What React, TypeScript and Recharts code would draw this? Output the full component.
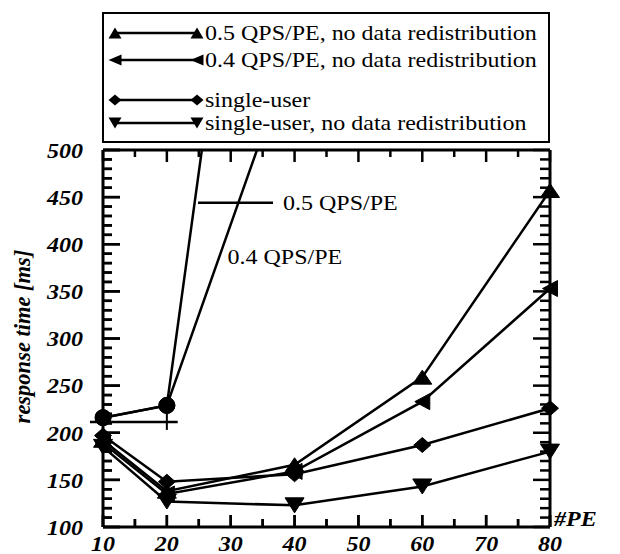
import React from 'react';
import { LineChart, Line, XAxis, YAxis, Legend, ReferenceLine, ReferenceDot, Label } from 'recharts';

const peCounts = [10, 20, 40, 60, 80];
const qps05NoRedist = [192, 138, 166, 259, 457];
const qps04NoRedist = [189, 135, 159, 233, 353];
const singleUser = [197, 148, 156, 187, 226];
const singleUserNoRedist = [185, 127, 123, 143, 180];
const qps05 = [216, 229, 1218, null, null];
const qps04 = [216, 229, 613, null, null];

const legendNames = [
  '0.5 QPS/PE, no data redistribution',
  '0.4 QPS/PE, no data redistribution',
  'single-user',
  'single-user, no data redistribution',
];
const legendShapes = ['up', 'left', 'diamond', 'down'];

const xTicks = [10, 15, 20, 25, 30, 35, 40, 45, 50, 55, 60, 65, 70, 75, 80];
const yTicks = [100, 110, 120, 130, 140, 150, 160, 170, 180, 190, 200, 210, 220, 230, 240, 250, 260, 270, 280, 290, 300, 310, 320, 330, 340, 350, 360, 370, 380, 390, 400, 410, 420, 430, 440, 450, 460, 470, 480, 490, 500];

const hLineSeg = [{ x: 7.96, y: 211.5 }, { x: 21.7, y: 211.5 }];
const vLineSeg = [{ x: 20, y: 229 }, { x: 20, y: 203 }];
const ann05Seg = [{ x: 24.88, y: 444 }, { x: 36.62, y: 444 }];
const ann05Text = '0.5 QPS/PE';
const ann04Pos = { x: 29.5, y: 386 };
const ann04Text = '0.4 QPS/PE';

const X_MIN = 10;
const X_MAX = 80;
const Y_MIN = 100;
const Y_MAX = 500;

const tickSegments = [
  ...xTicks.map((v) => [{ x: v, y: Y_MIN }, { x: v, y: Y_MIN + (v % 10 === 0 ? 12.7 : 8.5) }]),
  ...xTicks.map((v) => [{ x: v, y: Y_MAX }, { x: v, y: Y_MAX - (v % 10 === 0 ? 12.7 : 7.4) }]),
  ...yTicks.map((v) => [{ x: X_MIN, y: v }, { x: X_MIN + (v % 50 === 0 ? 2.66 : 1.41), y: v }]),
  ...yTicks.map((v) => [{ x: X_MAX, y: v }, { x: X_MAX - (v % 50 === 0 ? 2.66 : 1.57), y: v }]),
];

const rows = peCounts.map((pe, i) => ({
  pe,
  qps05NoRedist: qps05NoRedist[i],
  qps04NoRedist: qps04NoRedist[i],
  singleUser: singleUser[i],
  singleUserNoRedist: singleUserNoRedist[i],
  qps05: qps05[i],
  qps04: qps04[i],
}));

const FONT = '"Liberation Serif", "Times New Roman", serif';
const SX = 1.2;

function shapePoints(shape: string, cx: number, cy: number, w: number, h: number) {
  switch (shape) {
    case 'up':
      return `${cx},${cy - h / 2} ${cx + w / 2},${cy + h / 2} ${cx - w / 2},${cy + h / 2}`;
    case 'down':
      return `${cx - w / 2},${cy - h / 2} ${cx + w / 2},${cy - h / 2} ${cx},${cy + h / 2}`;
    case 'left':
      return `${cx - w / 2},${cy} ${cx + w / 2},${cy - h / 2} ${cx + w / 2},${cy + h / 2}`;
    default:
      return `${cx},${cy - h / 2} ${cx + w / 2},${cy} ${cx},${cy + h / 2} ${cx - w / 2},${cy}`;
  }
}

const chartSizes: Record<string, [number, number]> = {
  up: [19, 14],
  left: [15, 16],
  diamond: [17, 15],
  down: [19, 15],
};

function makeDot(shape: string) {
  return (props: any) => {
    const { cx, cy, index } = props;
    if (cx == null || cy == null || Number.isNaN(cx) || Number.isNaN(cy)) return <g key={`d-${index}`} />;
    const [w, h] = chartSizes[shape];
    return <polygon key={`d-${index}`} points={shapePoints(shape, cx, cy, w, h)} fill="#000" stroke="#000" strokeWidth={1} />;
  };
}

function XBottomTick(props: any) {
  const x = Number(props.x);
  const y = Number(props.y);
  const v = props.payload.value;
  const major = v % 10 === 0;
  const len = major ? 12 : 8;
  return (
    <g>
      <rect x={x - 1.25} y={y - len} width={2.5} height={len} fill="#000" />
      {major && (
        <text
          x={x / SX}
          y={y + 17}
          transform={`scale(${SX},1)`}
          textAnchor="middle"
          dominantBaseline="central"
          fontFamily={FONT}
          fontWeight="bold"
          fontStyle="italic"
          fontSize={20}
          fill="#000"
        >
          {v}
        </text>
      )}
    </g>
  );
}

function YLeftTick(props: any) {
  const x = Number(props.x);
  const y = Number(props.y);
  const v = props.payload.value;
  const major = v % 50 === 0;
  const len = major ? 17 : 9;
  return (
    <g>
      <rect x={x} y={y - 1.25} width={len} height={2.5} fill="#000" />
      {major && (
        <text
          x={(x - 20) / SX}
          y={y + 1}
          transform={`scale(${SX},1)`}
          textAnchor="end"
          dominantBaseline="central"
          fontFamily={FONT}
          fontWeight="bold"
          fontStyle="italic"
          fontSize={20}
          fill="#000"
        >
          {v}
        </text>
      )}
    </g>
  );
}

function YLabel(props: any) {
  const vb = props.viewBox || {};
  const x = (vb.x ?? 0) + 22;
  const y = (vb.y ?? 150) + (vb.height ?? 377) / 2 - 2;
  return (
    <text
      transform={`translate(${x},${y}) rotate(-90)`}
      textAnchor="middle"
      dominantBaseline="central"
      fontFamily={FONT}
      fontWeight="bold"
      fontStyle="italic"
      fontSize={22.5}
      fill="#000"
    >
      response time [ms]
    </text>
  );
}

function XLabel(props: any) {
  const vb = props.viewBox || {};
  const x = (vb.x ?? 103) + (vb.width ?? 447) + 4;
  const y = (vb.y ?? 527) - 8;
  return (
    <text
      transform={`translate(${x},${y}) scale(${SX},1)`}
      textAnchor="start"
      dominantBaseline="central"
      fontFamily={FONT}
      fontWeight="bold"
      fontStyle="italic"
      fontSize={20}
      fill="#000"
    >
      #PE
    </text>
  );
}

const makeAnnLabel = (text: string, dx: number) => (props: any) => {
  const vb = props.viewBox || {};
  const x = (vb.x ?? 0) + (vb.width ?? 0) + dx;
  const y = (vb.y ?? 0) + (vb.height ?? 0) / 2;
  return (
    <text
      transform={`translate(${x},${y}) scale(${SX},1)`}
      textAnchor="start"
      dominantBaseline="central"
      fontFamily={FONT}
      fontSize={20}
      fill="#000"
    >
      {text}
    </text>
  );
};

function LegendContent() {
  const rowY = [21, 48, 88, 111];
  const legendMarker: [number, number] = [13, 11];
  return (
    <div
      style={{
        position: 'relative',
        width: 448,
        height: 131,
        border: '2.5px solid #000',
        boxSizing: 'border-box',
        background: '#fff',
      }}
    >
      <svg width={448} height={131} style={{ position: 'absolute', left: -2.5, top: -2.5 }}>
        {legendNames.map((name, i) => {
          const y = rowY[i];
          const sh = legendShapes[i];
          return (
            <g key={name}>
              <line x1={13} x2={95} y1={y} y2={y} stroke="#000" strokeWidth={2.5} />
              <polygon points={shapePoints(sh, 13, y, legendMarker[0], legendMarker[1])} fill="#000" />
              <polygon points={shapePoints(sh, 95, y, legendMarker[0], legendMarker[1])} fill="#000" />
              <text
                transform={`translate(103,${y}) scale(${SX},1)`}
                dominantBaseline="central"
                fontFamily={FONT}
                fontSize={20}
                fill="#000"
              >
                {name}
              </text>
            </g>
          );
        })}
      </svg>
    </div>
  );
}

const seriesDefs = [
  { key: 'qps05NoRedist', shape: 'up' },
  { key: 'qps04NoRedist', shape: 'left' },
  { key: 'singleUser', shape: 'diamond' },
  { key: 'singleUserNoRedist', shape: 'down' },
];

export default function App() {
  return (
    <div style={{ position: 'absolute', left: 0, top: 0, background: '#fff' }}>
      <LineChart width={620} height={554} data={rows} margin={{ top: 149, right: 69, bottom: 0, left: 0 }}>
        <XAxis
          dataKey="pe"
          type="number"
          domain={[X_MIN, X_MAX]}
          ticks={xTicks}
          interval={0}
          tickSize={0}
          tickMargin={0}
          tickLine={false}
          tick={XBottomTick}
          axisLine={{ stroke: '#000', strokeWidth: 3 }}
          height={27}
        >
          <Label content={<XLabel />} />
        </XAxis>
        <XAxis
          xAxisId="top"
          dataKey="pe"
          orientation="top"
          type="number"
          domain={[X_MIN, X_MAX]}
          ticks={xTicks}
          interval={0}
          tickSize={0}
          tickMargin={0}
          tickLine={false}
          tick={false}
          axisLine={{ stroke: '#000', strokeWidth: 3 }}
          height={1}
          allowDataOverflow
        />
        <YAxis
          type="number"
          domain={[Y_MIN, Y_MAX]}
          ticks={yTicks}
          interval={0}
          tickSize={0}
          tickMargin={0}
          tickLine={false}
          tick={YLeftTick}
          axisLine={{ stroke: '#000', strokeWidth: 3 }}
          width={103}
        >
          <Label content={<YLabel />} />
        </YAxis>
        <YAxis
          yAxisId="right"
          orientation="right"
          type="number"
          domain={[Y_MIN, Y_MAX]}
          ticks={yTicks}
          interval={0}
          tickSize={0}
          tickMargin={0}
          tickLine={false}
          tick={false}
          axisLine={{ stroke: '#000', strokeWidth: 3 }}
          width={1}
          allowDataOverflow
        />
        <Legend
          layout="horizontal"
          verticalAlign="middle"
          align="center"
          content={<LegendContent />}
          wrapperStyle={{ left: 102, top: 12, width: 448, height: 131 }}
        />
        {tickSegments.map((seg, i) => (
          <ReferenceLine key={`tick-${i}`} segment={seg} stroke="#000" strokeWidth={2.5} ifOverflow="visible" />
        ))}
        <ReferenceLine segment={hLineSeg} stroke="#000" strokeWidth={2.5} ifOverflow="visible" />
        <ReferenceLine segment={vLineSeg} stroke="#000" strokeWidth={2} ifOverflow="visible" />
        <ReferenceLine segment={ann05Seg} stroke="#000" strokeWidth={2.5} ifOverflow="visible">
          <Label content={makeAnnLabel(ann05Text, 10)} />
        </ReferenceLine>
        <ReferenceDot x={ann04Pos.x} y={ann04Pos.y} r={0} fill="none" stroke="none" ifOverflow="visible">
          <Label content={makeAnnLabel(ann04Text, 0)} />
        </ReferenceDot>
        <Line
          xAxisId="top"
          yAxisId="right"
          dataKey="qps05"
          stroke="#000"
          strokeWidth={2.5}
          dot={{ r: 8, fill: '#000', stroke: '#000', strokeWidth: 1, clipDot: false }}
          activeDot={false}
          legendType="none"
          isAnimationActive={false}
        />
        <Line
          xAxisId="top"
          yAxisId="right"
          dataKey="qps04"
          stroke="#000"
          strokeWidth={2.5}
          dot={{ r: 8, fill: '#000', stroke: '#000', strokeWidth: 1, clipDot: false }}
          activeDot={false}
          legendType="none"
          isAnimationActive={false}
        />
        {seriesDefs.map((s) => (
          <Line
            key={s.key}
            dataKey={s.key}
            stroke="#000"
            strokeWidth={2.5}
            dot={makeDot(s.shape)}
            activeDot={false}
            isAnimationActive={false}
          />
        ))}
      </LineChart>
    </div>
  );
}
